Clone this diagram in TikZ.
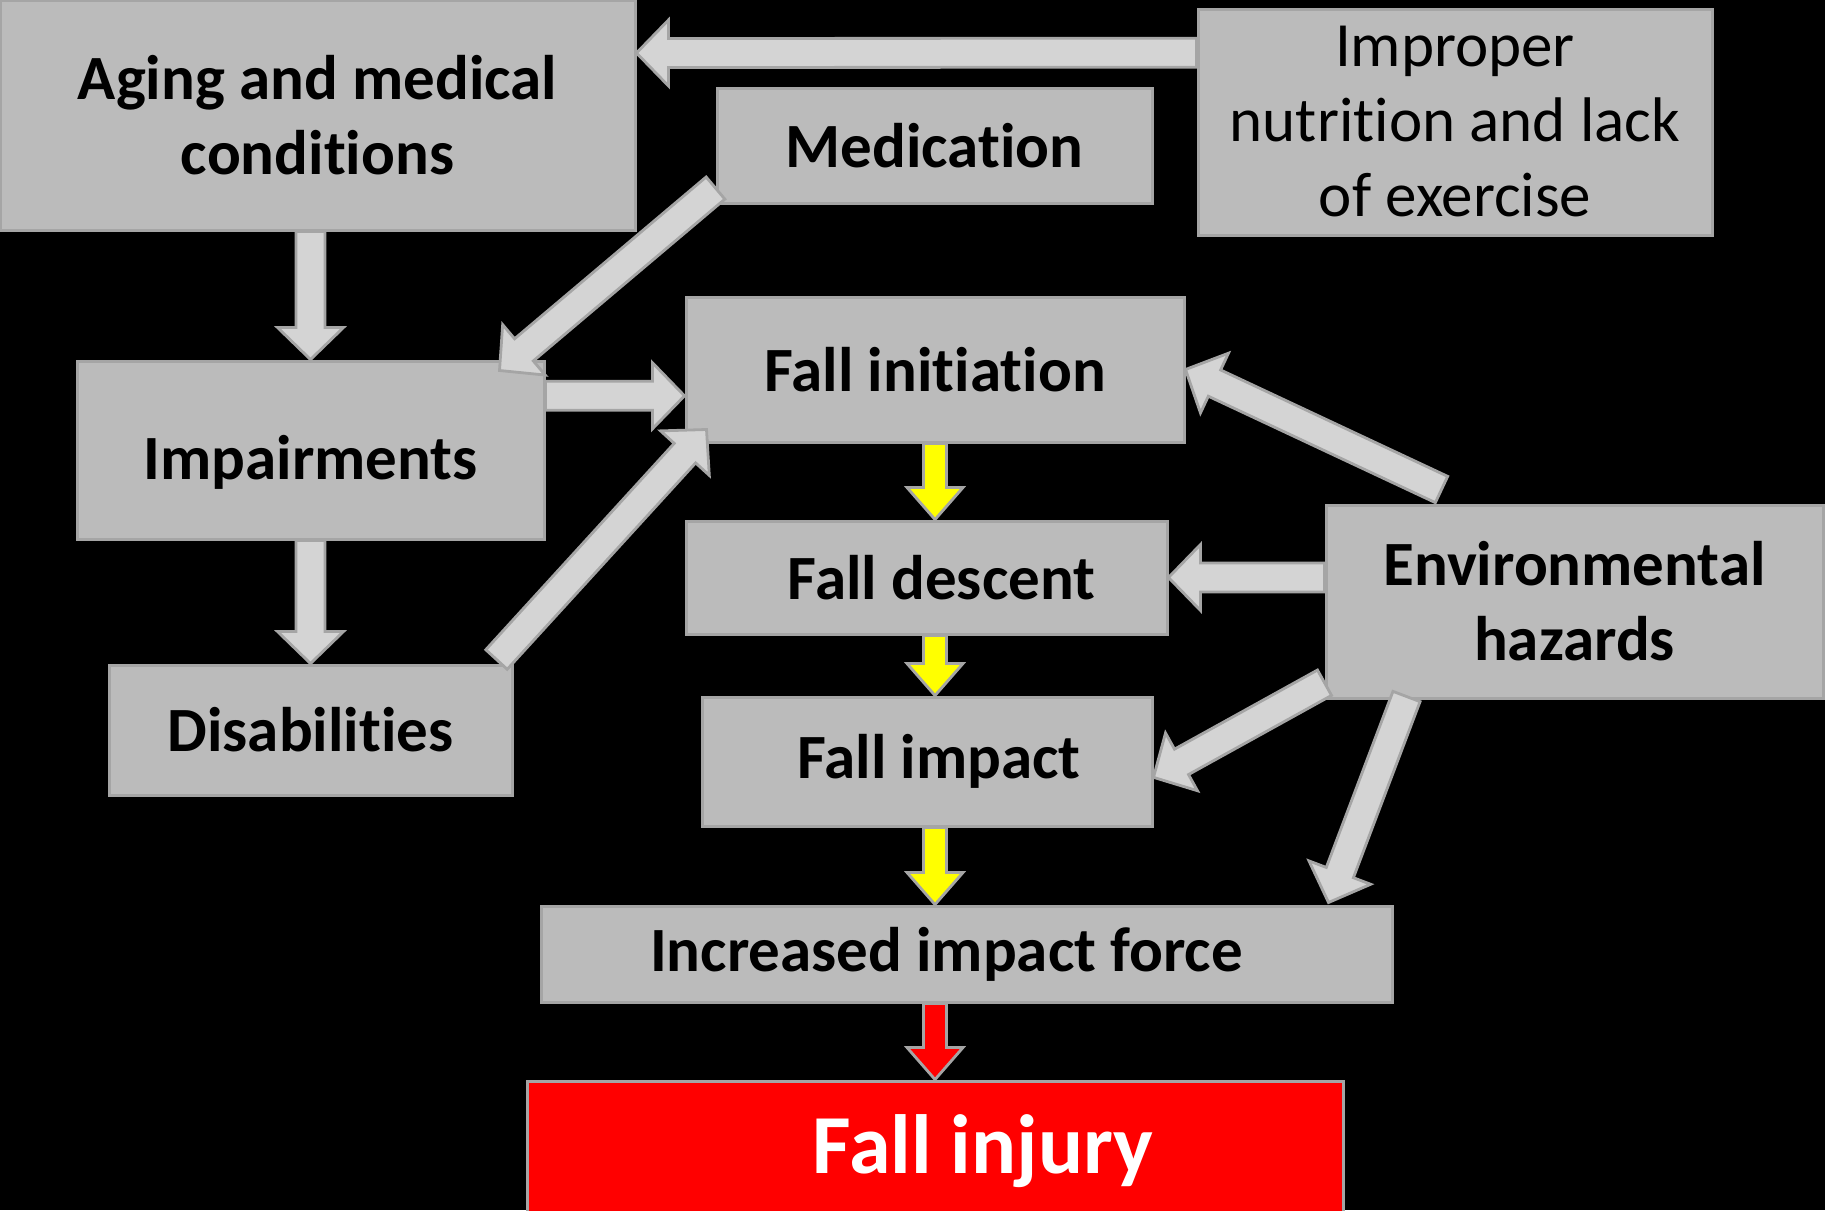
\documentclass[tikz,border=0pt]{standalone}
\usepackage{fontspec}
\setmainfont{Carlito}
\usetikzlibrary{calc,positioning}
\definecolor{boxgray}{HTML}{BBBBBB}
\definecolor{edgegray}{HTML}{A5A5A5}
\definecolor{arrowgray}{HTML}{D4D4D4}
\definecolor{fallyellow}{HTML}{FFFF00}
\definecolor{injuryred}{HTML}{FF0000}
% t without the ti ligature
\newcommand{\tsplit}{t\kern0pt}
% block arrow: #2 half shaft, #3 half head, #4 tail, #5 tip
\newcommand{\blockarrow}[5][grayarrow]{%
  \draw[#1] let \p1=(#4), \p2=(#5), \p3=($(\p2)!16pt!(\p1)$) in
    ($(\p1)!#2!90:(\p2)$) -- ($(\p3)!#2!90:(\p2)$) -- ($(\p3)!#3!90:(\p2)$) -- (\p2)
    -- ($(\p3)!#3!-90:(\p2)$) -- ($(\p3)!#2!-90:(\p2)$) -- ($(\p1)!#2!-90:(\p2)$) -- cycle;
}

\begin{document}
\begin{tikzpicture}[x=0.5pt, y=-0.5pt,
  box/.style={draw=edgegray, line width=1.5pt, fill=boxgray, align=center, inner sep=0pt,
    font=\fontsize{31.5}{37.5}\selectfont\bfseries},
  grayarrow/.style={draw=edgegray, line width=1.4pt, fill=arrowgray, line join=miter},
  yellowarrow/.style={grayarrow, fill=fallyellow},
  redarrow/.style={grayarrow, fill=injuryred}]
  % Background
  \fill[black] (0,0) rectangle (1825,1210);
  \useasboundingbox (0,0) rectangle (1825,1210);

  % Risk factors
  \node[box, minimum width=317.5pt, minimum height=115pt] (aging) at (317.5,115) {Aging and medical\\condi\tsplit ions};
  \node[box, minimum width=217.5pt, minimum height=57.5pt] (medic) at (934.5,145.5) {Medica\tsplit ion};
  \node[box, minimum width=257pt, minimum height=113pt, font=\fontsize{31.5}{37.5}\selectfont] (improper) at (1455,122) {Improper\\nutri\tsplit ion and lack\\of exercise};
  \node[box, minimum width=233.5pt, minimum height=89pt] (impair) at (310.5,450) {\raisebox{-6pt}[\height][\depth]{Impairments}};
  \node[box, minimum width=201.5pt, minimum height=65pt] (disab) at (310.5,730) {Disabili\tsplit ies};
  \node[box, minimum width=248.5pt, minimum height=96.5pt] (env) at (1574.5,601.5) {Environmental\\hazards};

  % Fall sequence
  \node[box, minimum width=249pt, minimum height=72.5pt] (init) at (935,369.5) {Fall ini\tsplit ia\tsplit ion};
  \node[box, minimum width=240.5pt, minimum height=56.5pt] (descent) at (926.5,577.5) {\hspace*{15pt}Fall descent};
  \node[box, minimum width=225pt, minimum height=64.5pt] (impact) at (927,761.5) {\hspace*{12pt}Fall impact};
  \node[box, minimum width=425.5pt, minimum height=48pt] (force) at (966.5,954) {Increased impact force\hspace*{20pt}};
  \node[box, fill=injuryred, text=white, minimum width=408pt, minimum height=70pt,
    font=\fontsize{42}{50}\selectfont\bfseries] (injury) at (935,1151) {\hspace*{48pt}Fall injury};

  % Gray arrows
  \blockarrow{7.25pt}{16.5pt}{improper.165}{aging.11}
  \blockarrow{7.25pt}{16.5pt}{aging.south -| impair.north}{impair.north}
  \blockarrow{7.25pt}{16.5pt}{medic.191}{[shift={(-46,11)}]impair.north east}
  \blockarrow{7.25pt}{16.5pt}{impair.13}{init.186}
  \blockarrow{7.25pt}{16.5pt}{impair.south}{disab.north}
  \blockarrow{7.25pt}{16.5pt}{[shift={(-17,-4)}]disab.north east}{[shift={(22,-14)}]init.south west}
  \blockarrow{7.25pt}{16.5pt}{[shift={(117,-14)}]env.north west}{init.east}
  \blockarrow{7.25pt}{16.5pt}{env.west |- descent.east}{descent.east}
  \blockarrow{7.25pt}{16.5pt}{env.198}{impact.-4}
  \blockarrow{7.25pt}{16.5pt}{[shift={(82,-3)}]env.south west}{[shift={(-65,-2)}]force.north east}

  % Yellow and red arrows
  \blockarrow[yellowarrow]{5.75pt}{14pt}{init.south}{init.south |- descent.north}
  \blockarrow[yellowarrow]{5.75pt}{14pt}{descent.south -| init.south}{impact.north -| init.south}
  \blockarrow[yellowarrow]{5.75pt}{14pt}{impact.south -| init.south}{force.north -| init.south}
  \blockarrow[redarrow]{5.75pt}{14pt}{force.south -| init.south}{injury.north}
\end{tikzpicture}
\end{document}
